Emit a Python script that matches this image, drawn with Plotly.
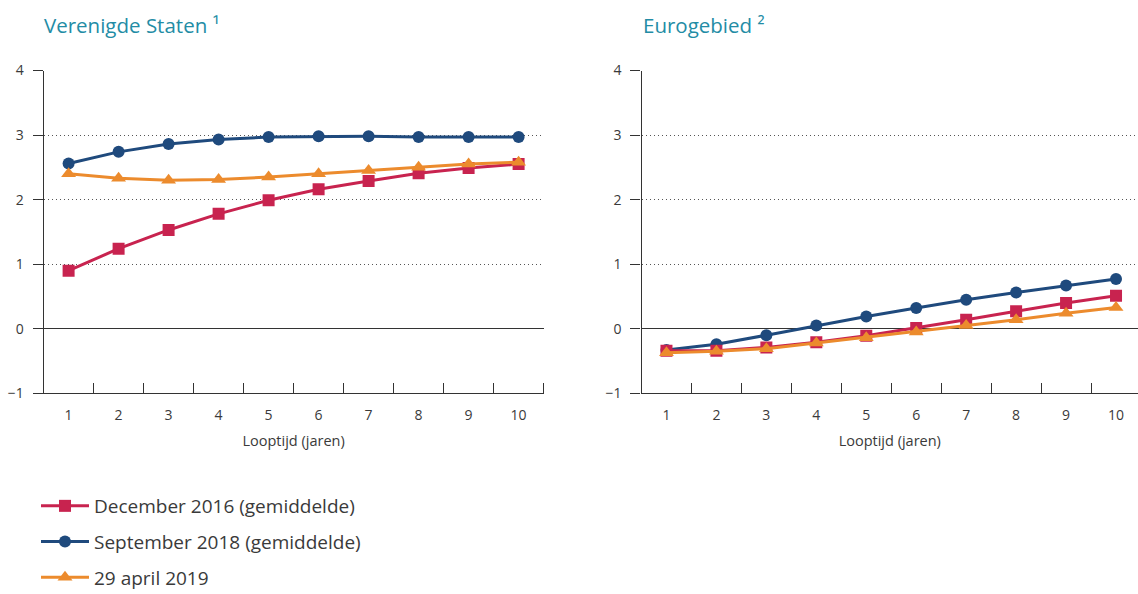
import plotly.graph_objects as go

# Looptijd in jaren
maturities = [1, 2, 3, 4, 5, 6, 7, 8, 9, 10]

# Rendementscurven Verenigde Staten (%)
us_dec2016 = [0.90, 1.24, 1.53, 1.78, 1.99, 2.16, 2.29, 2.41, 2.49, 2.55]
us_sep2018 = [2.56, 2.74, 2.86, 2.93, 2.97, 2.98, 2.98, 2.97, 2.97, 2.97]
us_apr2019 = [2.40, 2.33, 2.30, 2.31, 2.35, 2.40, 2.45, 2.50, 2.55, 2.58]

# Rendementscurven eurogebied (%)
ea_dec2016 = [-0.34, -0.34, -0.29, -0.21, -0.11, 0.01, 0.14, 0.27, 0.40, 0.51]
ea_sep2018 = [-0.33, -0.24, -0.10, 0.05, 0.19, 0.32, 0.45, 0.56, 0.67, 0.77]
ea_apr2019 = [-0.37, -0.35, -0.31, -0.22, -0.14, -0.05, 0.05, 0.14, 0.24, 0.33]

series_names = ["December 2016 (gemiddelde)", "September 2018 (gemiddelde)", "29 april 2019"]
panel_titles = ["Verenigde Staten \u00b9", "Eurogebied \u00b2"]
x_title = "Looptijd (jaren)"

RED = "#c8234f"
BLUE = "#1f4a7d"
ORANGE = "#ec8b2d"
TEAL = "#238ca5"
TEXT = "#3a3a3a"
AXIS = "#333333"
FONT = "Open Sans"

W, H = 1138, 594

fig = go.Figure()

styles = {
    0: dict(color=RED, symbol="square", size=12),
    1: dict(color=BLUE, symbol="circle", size=12),
    2: dict(color=ORANGE, symbol="triangle-up", size=13),
}
# drawing order: blue underneath, then red, orange on top
draw_order = [1, 0, 2]

panels = [
    ("x", "y", [us_dec2016, us_sep2018, us_apr2019]),
    ("x2", "y2", [ea_dec2016, ea_sep2018, ea_apr2019]),
]

for p, (xa, ya, data) in enumerate(panels):
    for k in draw_order:
        st = styles[k]
        fig.add_trace(go.Scatter(
            x=maturities, y=data[k], xaxis=xa, yaxis=ya,
            mode="lines+markers",
            name=series_names[k],
            legendgroup=f"g{k}", legendrank=k + 1,
            showlegend=(p == 0),
            line=dict(color=st["color"], width=3),
            marker=dict(color=st["color"], symbol=st["symbol"], size=st["size"]),
            hoverinfo="skip",
        ))

def px_x(v):
    return v / W

def px_y(v):
    return 1 - v / H

y_dom = [px_y(393.3), px_y(70.5)]

common_x = dict(
    tickmode="array", tickvals=maturities, ticktext=[str(m) for m in maturities],
    ticks="", showline=True, linecolor=AXIS, linewidth=1.2,
    showgrid=False, zeroline=False, automargin=False,
    tickfont=dict(family=FONT, size=14, color=TEXT),
    ticklabelstandoff=9,
    minor=dict(tickvals=[m + 0.5 for m in maturities], ticks="inside",
               ticklen=10, tickwidth=1.2, tickcolor=AXIS, showgrid=False),
    title=dict(text=x_title, font=dict(family=FONT, size=14.5, color=TEXT), standoff=12),
)
common_y = dict(
    range=[-1, 4], tickmode="linear", tick0=-1, dtick=1,
    ticks="outside", ticklen=10, tickwidth=1.2, tickcolor=AXIS,
    showline=True, linecolor=AXIS, linewidth=1.2,
    showgrid=True, gridcolor="#555555", griddash="1px,3px", gridwidth=1,
    zeroline=True, zerolinecolor=AXIS, zerolinewidth=1.2,
    automargin=False,
    tickfont=dict(family=FONT, size=14, color=TEXT),
    ticklabelstandoff=6,
    tickformat="d",
)

fig.update_layout(
    width=W, height=H,
    margin=dict(l=0, r=0, t=0, b=0, autoexpand=False),
    paper_bgcolor="white", plot_bgcolor="white",
    font=dict(family=FONT, color=TEXT),
    xaxis=dict(domain=[px_x(43.6), px_x(543.6)], range=[0.5, 10.5], anchor="y", **common_x),
    yaxis=dict(domain=y_dom, anchor="x", **common_y),
    xaxis2=dict(domain=[px_x(641.5), 1.0], range=[0.5, 10.44], anchor="y2", **common_x),
    yaxis2=dict(domain=y_dom, anchor="x2", **common_y),
    showlegend=True,
    legend=dict(
        x=px_x(36), y=px_y(487), xanchor="left", yanchor="top",
        traceorder="grouped", tracegroupgap=8,
        font=dict(family=FONT, size=19, color=TEXT),
        bgcolor="rgba(0,0,0,0)", itemwidth=48,
    ),
)

# Kopjes boven de panelen
for title, xpos in zip(panel_titles, [42, 641]):
    fig.add_annotation(
        text=title, xref="paper", yref="paper",
        x=px_x(xpos), y=px_y(25), xanchor="left", yanchor="middle",
        showarrow=False, font=dict(family=FONT, size=20.5, color=TEAL),
    )

fig.write_html("out.html")
